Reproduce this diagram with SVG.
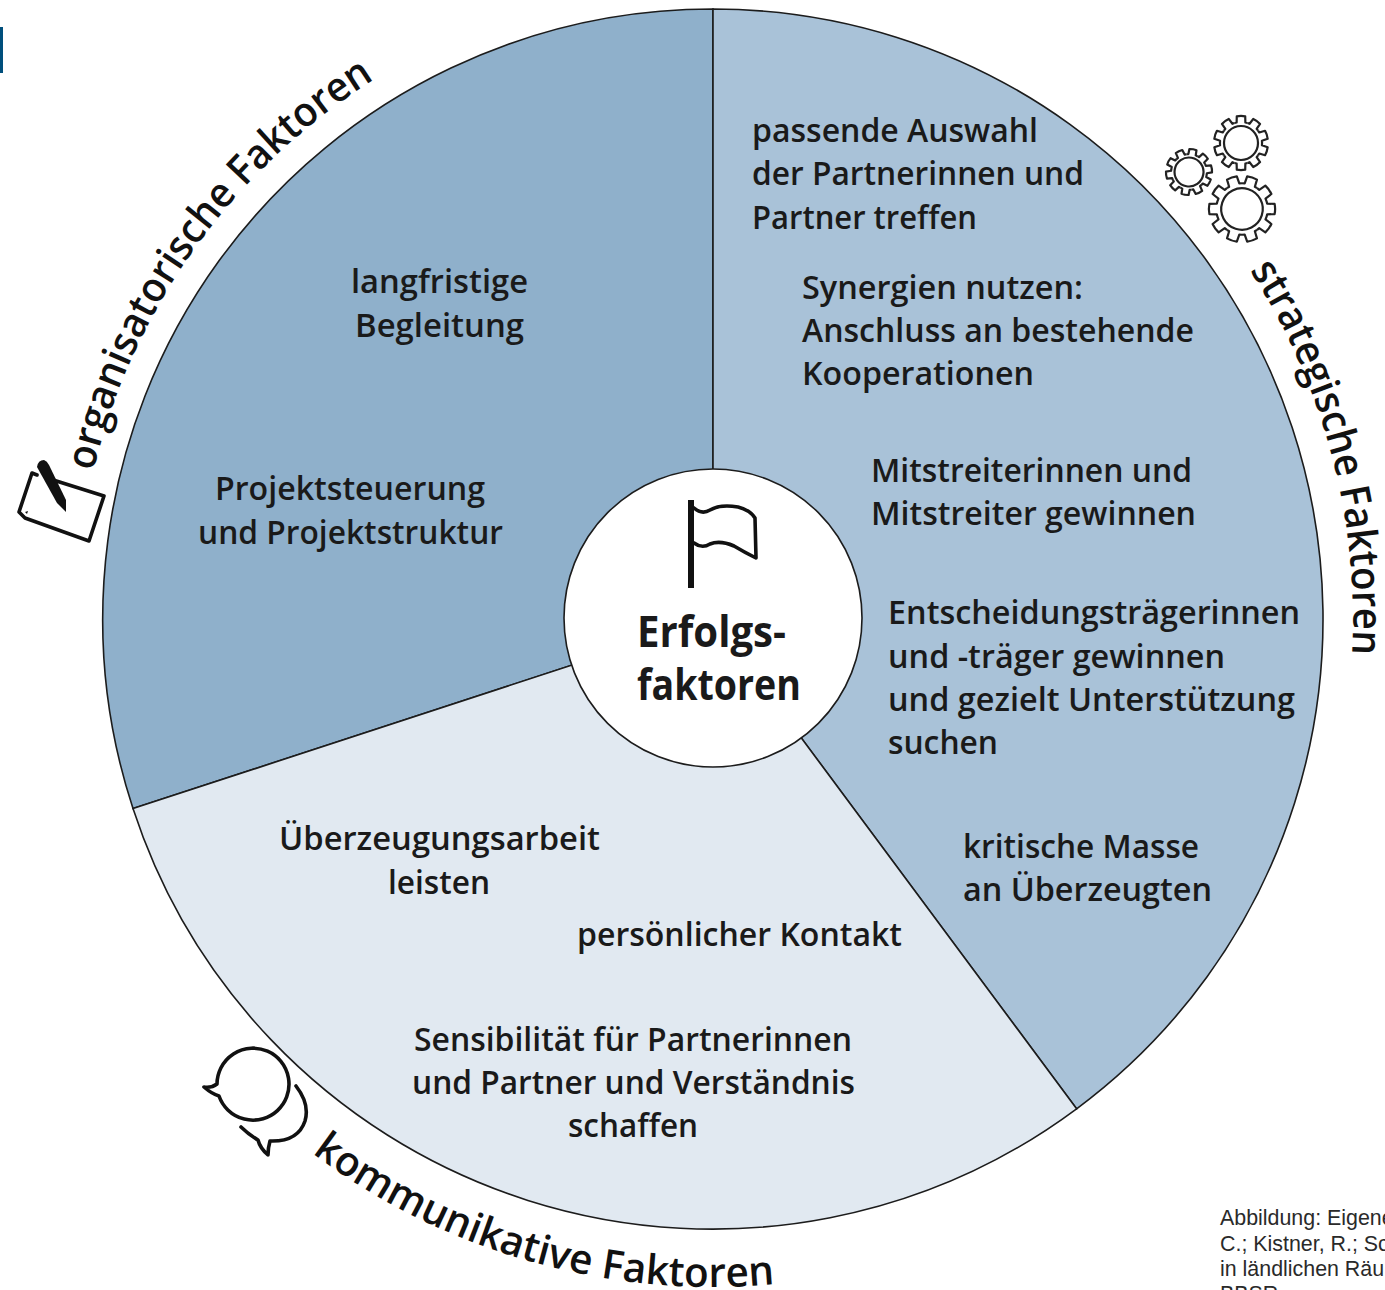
<svg xmlns="http://www.w3.org/2000/svg" xmlns:xlink="http://www.w3.org/1999/xlink" width="1385" height="1290" viewBox="0 0 1385 1290">
<style>
.s{stroke:#1c1c1c;stroke-width:1.6}
.t{font-family:"Open Sans","Noto Sans","Liberation Sans",sans-serif;font-weight:600;font-size:33px;fill:#1a1a1a}
.c{font-family:"Open Sans","Noto Sans","Liberation Sans",sans-serif;font-weight:700;font-size:43px;fill:#1a1a1a}
.r{font-family:"Open Sans","Noto Sans","Liberation Sans",sans-serif;font-weight:600;font-size:41px;fill:#111}
.k{font-family:"Liberation Sans",Arial,sans-serif;font-size:21.4px;fill:#2a2a2a}
.i{fill:none;stroke:#111;stroke-width:3.6;stroke-linejoin:round;stroke-linecap:round}
.g{fill:none;stroke:#222;stroke-width:2.2;stroke-linejoin:round;vector-effect:non-scaling-stroke}
</style>
<defs>
<path id="po" d="M93.3 471.6A637 637 0 0 1 713 -18"/>
<path id="ps" d="M1249.7 270.4A640 640 0 0 1 1345 719"/>
<path id="pk" d="M312 1153A668 668 0 0 0 800 1281.3"/>
<path id="tooth" class="g" d="M-.241 -.742L-.162 -.763L-.156 -.988Q0 -1.02 .156 -.988L.162 -.763L.241 -.742"/>
<g id="gear">
<use href="#tooth"/><use href="#tooth" transform="rotate(36)"/><use href="#tooth" transform="rotate(72)"/><use href="#tooth" transform="rotate(108)"/><use href="#tooth" transform="rotate(144)"/><use href="#tooth" transform="rotate(180)"/><use href="#tooth" transform="rotate(216)"/><use href="#tooth" transform="rotate(252)"/><use href="#tooth" transform="rotate(288)"/><use href="#tooth" transform="rotate(324)"/>
<circle class="g" r=".63"/>
</g>
</defs>
<rect id="bar" x="0" y="27" width="3" height="46" fill="#004f7c"/>

<g id="sector-organisatorisch">
<path class="s" fill="#8fb0cb" d="M713 619L713 9A610 610 0 0 0 133 808.6Z"/>
<text class="t" x="351" y="293" textLength="177" lengthAdjust="spacingAndGlyphs">langfristige</text>
<text class="t" x="355" y="337" textLength="169" lengthAdjust="spacingAndGlyphs">Begleitung</text>
<text class="t" x="215" y="500" textLength="270" lengthAdjust="spacingAndGlyphs">Projektsteuerung</text>
<text class="t" x="198" y="544" textLength="305" lengthAdjust="spacingAndGlyphs">und Projektstruktur</text>
</g>
<g id="sector-strategisch">
<path class="s" fill="#a9c2d8" d="M713 619L713 9A610 610 0 0 1 1076.6 1108.8Z"/>
<text class="t" x="752" y="142" textLength="286" lengthAdjust="spacingAndGlyphs">passende Auswahl</text>
<text class="t" x="752" y="185" textLength="332" lengthAdjust="spacingAndGlyphs">der Partnerinnen und</text>
<text class="t" x="752" y="229" textLength="225" lengthAdjust="spacingAndGlyphs">Partner treffen</text>
<text class="t" x="802" y="299" textLength="281" lengthAdjust="spacingAndGlyphs">Synergien nutzen:</text>
<text class="t" x="802" y="342" textLength="392" lengthAdjust="spacingAndGlyphs">Anschluss an bestehende</text>
<text class="t" x="802" y="385" textLength="232" lengthAdjust="spacingAndGlyphs">Kooperationen</text>
<text class="t" x="871" y="482" textLength="321" lengthAdjust="spacingAndGlyphs">Mitstreiterinnen und</text>
<text class="t" x="871" y="525" textLength="325" lengthAdjust="spacingAndGlyphs">Mitstreiter gewinnen</text>
<text class="t" x="888" y="624" textLength="412" lengthAdjust="spacingAndGlyphs">Entscheidungsträgerinnen</text>
<text class="t" x="888" y="668" textLength="337" lengthAdjust="spacingAndGlyphs">und -träger gewinnen</text>
<text class="t" x="888" y="711" textLength="407" lengthAdjust="spacingAndGlyphs">und gezielt Unterstützung</text>
<text class="t" x="888" y="754" textLength="110" lengthAdjust="spacingAndGlyphs">suchen</text>
<text class="t" x="963" y="858" textLength="236" lengthAdjust="spacingAndGlyphs">kritische Masse</text>
<text class="t" x="963" y="901" textLength="249" lengthAdjust="spacingAndGlyphs">an Überzeugten</text>
</g>
<g id="sector-kommunikativ">
<path class="s" fill="#e1e9f1" d="M713 619L133 808.6A610 610 0 0 0 1076.6 1108.8Z"/>
<text class="t" x="279" y="850" textLength="321" lengthAdjust="spacingAndGlyphs">Überzeugungsarbeit</text>
<text class="t" x="388" y="894" textLength="102" lengthAdjust="spacingAndGlyphs">leisten</text>
<text class="t" x="577" y="946" textLength="325" lengthAdjust="spacingAndGlyphs">persönlicher Kontakt</text>
<text class="t" x="414" y="1051" textLength="438" lengthAdjust="spacingAndGlyphs">Sensibilität für Partnerinnen</text>
<text class="t" x="412" y="1094" textLength="443" lengthAdjust="spacingAndGlyphs">und Partner und Verständnis</text>
<text class="t" x="568" y="1137" textLength="130" lengthAdjust="spacingAndGlyphs">schaffen</text>
</g>
<g id="center">
<circle class="s" fill="#fff" cx="713" cy="618" r="149"/>
<rect x="688" y="500" width="6" height="88" fill="#111"/>
<path class="i" d="M694 508Q702 515 710 510Q720 504 738 507Q750 510 755 518L756 558Q744 552 734 546Q720 540 710 544Q702 549 694 543"/>
<text class="c" x="637" y="647" textLength="149" lengthAdjust="spacingAndGlyphs">Erfolgs-</text>
<text class="c" x="637" y="700" textLength="164" lengthAdjust="spacingAndGlyphs">faktoren</text>
</g>
<g id="label-organisatorisch">
<text class="r"><textPath href="#po" textLength="495" lengthAdjust="spacingAndGlyphs">organisatorische Faktoren</textPath></text>
<path class="i" d="M37 475L32 473L19 512L25 518L89 541L104 496L50 479"/>
<path d="M25 512L28 511L27 514Z" fill="#111"/>
<path fill="#111" d="M37 467Q38 460 44 460Q47 461 49 465L66 500L66 512L57 503Z"/>
</g>
<g id="label-strategisch">
<text class="r"><textPath href="#ps" textLength="404" lengthAdjust="spacingAndGlyphs">strategische Faktoren</textPath></text>
<use href="#gear" transform="translate(1241 143) scale(27)"/>
<use href="#gear" transform="translate(1189 172) scale(23) rotate(10)"/>
<use href="#gear" transform="translate(1242 209) scale(33) rotate(18)"/>
</g>
<g id="label-kommunikativ">
<text class="r"><textPath href="#pk" textLength="492" lengthAdjust="spacingAndGlyphs">kommunikative Faktoren</textPath></text>
<path class="i" d="M217 1084A36 36 0 1 1 219 1096Q212 1094 204 1087Q212 1088 217 1084Z"/>
<path class="i" d="M296 1086Q310 1104 305 1121Q298 1142 270 1141Q268 1148 268 1155Q260 1148 258 1140Q248 1134 241 1127"/>
</g>
<g id="caption">
<text class="k" x="1220" y="1225">Abbildung: Eigene</text>
<text class="k" x="1220" y="1251">C.; Kistner, R.; Sc</text>
<text class="k" x="1220" y="1276">in ländlichen Räu</text>
<text class="k" x="1220" y="1301">BBSR</text>
</g>
</svg>
